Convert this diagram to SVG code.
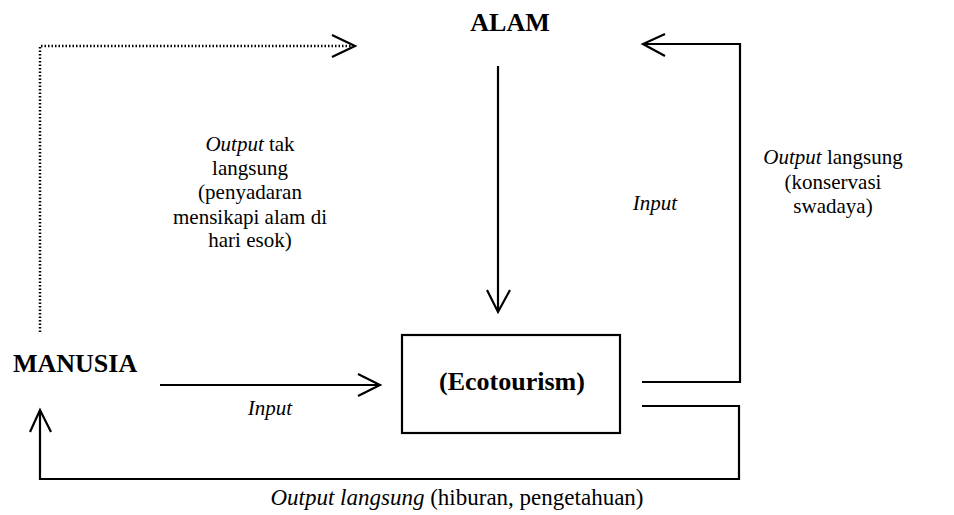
<svg xmlns="http://www.w3.org/2000/svg" width="954" height="515" viewBox="0 0 954 515">
<style>
.t{font-family:"Liberation Serif","Times New Roman",serif;font-size:21px;fill:#000}
.b{font-family:"Liberation Serif","Times New Roman",serif;font-size:26px;font-weight:bold;fill:#000}
.i{font-style:italic}
.ln{fill:none;stroke:#000;stroke-width:2.2}
.dot{fill:none;stroke:#000;stroke-width:2.5;stroke-dasharray:1.5 2}
</style>
<rect width="954" height="515" fill="#fff"/>
<g id="alam"><text class="b" x="510" y="31" text-anchor="middle">ALAM</text></g>
<g id="manusia"><text class="b" x="13" y="372">MANUSIA</text></g>
<g id="ecotourism"><rect class="ln" x="402" y="335" width="218" height="98"/><text class="b" x="512" y="390" text-anchor="middle">(Ecotourism)</text></g>
<g id="connectors">
<polyline class="dot" points="40,332 40,46 352,46"/>
<polyline class="ln" points="332,35 355,46 332,57"/>
<line class="ln" x1="498" y1="66" x2="498" y2="311"/>
<polyline class="ln" points="487,290 498,312 510,290"/>
<polyline class="ln" points="642,382 740,382 740,44 643,44"/>
<polyline class="ln" points="665,34 643,44 665,56"/>
<line class="ln" x1="160" y1="385" x2="378" y2="385"/>
<polyline class="ln" points="358,374 380,385 358,396"/>
<polyline class="ln" points="642,406 739,406 739,479 40,479 40,411"/>
<polyline class="ln" points="30,432 40,410 51,432"/>
</g>
<g id="labels">
<text class="t" text-anchor="middle" x="250" y="151"><tspan class="i">Output</tspan> tak</text>
<text class="t" text-anchor="middle" x="250" y="175">langsung</text>
<text class="t" text-anchor="middle" x="250" y="199">(penyadaran</text>
<text class="t" text-anchor="middle" x="250" y="224">mensikapi alam di</text>
<text class="t" text-anchor="middle" x="250" y="247">hari esok)</text>
<text class="t i" text-anchor="middle" x="655" y="210">Input</text>
<text class="t" text-anchor="middle" x="833" y="164"><tspan class="i">Output</tspan> langsung</text>
<text class="t" text-anchor="middle" x="833" y="189">(konservasi</text>
<text class="t" text-anchor="middle" x="833" y="213">swadaya)</text>
<text class="t i" text-anchor="middle" x="270" y="415">Input</text>
<text class="t" style="font-size:23px" text-anchor="middle" x="457" y="505"><tspan class="i">Output langsung</tspan> (hiburan, pengetahuan)</text>
</g>
</svg>
